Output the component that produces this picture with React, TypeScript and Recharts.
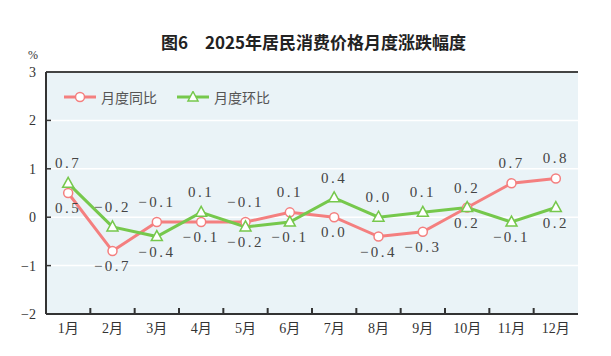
import { ComposedChart, Line, XAxis, YAxis, CartesianGrid, Legend, LabelList, ReferenceLine } from 'recharts'

const months = ['1月', '2月', '3月', '4月', '5月', '6月', '7月', '8月', '9月', '10月', '11月', '12月']
const yoy = [0.5, -0.7, -0.1, -0.1, -0.1, 0.1, 0.0, -0.4, -0.3, 0.2, 0.7, 0.8] // 月度同比
const mom = [0.7, -0.2, -0.4, 0.1, -0.2, -0.1, 0.4, 0.0, 0.1, 0.2, -0.1, 0.2] // 月度环比
const yTicks = [-2, -1, 0, 1, 2, 3]

const PINK = '#f47f7f'
const GREEN = '#76c84c'
const W = 611
const H = 356
const LEFT = 46
const RIGHT = 33
const band = (W - LEFT - RIGHT) / months.length

const numFont = '"Liberation Serif", "Noto Sans CJK SC", serif'
const cjkFont = '"Noto Sans CJK SC", sans-serif'

const data = months.map((m, i) => ({ month: m, yoy: yoy[i], mom: mom[i] }))

const fmt = (v: number) => (v < 0 ? '−' : '') + Math.abs(v).toFixed(1)

function makeLabel(series: 'yoy' | 'mom') {
  return (props: any) => {
    const { x, y, value, index } = props
    const mine = series === 'yoy' ? yoy[index] : mom[index]
    const other = series === 'yoy' ? mom[index] : yoy[index]
    const above = mine > other || (mine === other && series === 'yoy')
    return (
      <text
        x={x}
        y={above ? y - 15 : y + 20}
        textAnchor="middle"
        fontFamily={numFont}
        fontSize={15}
        letterSpacing={2.5}
        fill="#444"
      >
        {fmt(value)}
      </text>
    )
  }
}

const Triangle = (props: any) => {
  const { cx, cy, index } = props
  return (
    <path
      key={'t' + index}
      d={`M${cx},${cy - 6} L${cx + 5.5},${cy + 4} L${cx - 5.5},${cy + 4} Z`}
      fill="#fff"
      stroke={GREEN}
      strokeWidth={1.5}
    />
  )
}

const XTick = (props: any) => {
  const { x, y, payload, index } = props
  return (
    <g>
      <text x={x} y={y + 19} textAnchor="middle" fontFamily={numFont} fontSize={14} fill="#333">
        {payload.value}
      </text>
      {index < months.length - 1 && (
        <line x1={x + band / 2} x2={x + band / 2} y1={y} y2={y - 6} stroke="#333" strokeWidth={2} />
      )}
    </g>
  )
}

const YTick = (props: any) => {
  const { x, y, payload } = props
  const v = payload.value
  return (
    <g>
      <text x={x} y={y + 5} textAnchor="end" fontFamily={numFont} fontSize={14} fill="#333">
        {v < 0 ? '−' + Math.abs(v) : v}
      </text>
      {v > -2 && v < 3 && <line x1={LEFT} x2={LEFT + 5} y1={y} y2={y} stroke="#333" strokeWidth={1.5} />}
    </g>
  )
}

const LegendContent = () => (
  <div style={{ display: 'flex', alignItems: 'center', fontFamily: cjkFont, fontSize: 14, color: '#555' }}>
    <svg width={34} height={12}>
      <line x1={0} x2={32} y1={6} y2={6} stroke={PINK} strokeWidth={3} />
      <circle cx={16} cy={6} r={4.5} fill="#fff" stroke={PINK} strokeWidth={1.5} />
    </svg>
    <span style={{ marginLeft: 3, marginRight: 20 }}>月度同比</span>
    <svg width={34} height={12}>
      <line x1={0} x2={32} y1={6} y2={6} stroke={GREEN} strokeWidth={3} />
      <path d="M16,0.5 L21,10 L11,10 Z" fill="#fff" stroke={GREEN} strokeWidth={1.5} />
    </svg>
    <span style={{ marginLeft: 3 }}>月度环比</span>
  </div>
)

export default function App() {
  return (
    <div style={{ position: 'absolute', left: 0, top: 0, width: W, height: H, background: '#fff' }}>
      <div
        style={{
          position: 'absolute',
          left: 0,
          width: W,
          top: 30,
          textAlign: 'center',
          fontFamily: cjkFont,
          fontWeight: 'bold',
          fontSize: 17,
          color: '#222',
          lineHeight: '24px',
          paddingLeft: 16,
          boxSizing: 'border-box',
        }}
      >
        图6　2025年居民消费价格月度涨跌幅度
      </div>
      <div style={{ position: 'absolute', left: 28, top: 48, fontFamily: numFont, fontSize: 12, color: '#333' }}>%</div>
      <ComposedChart width={W} height={H} data={data} margin={{ top: 72, right: RIGHT, bottom: 0, left: 0 }}>
        <CartesianGrid vertical={false} stroke="#fff" strokeWidth={1.5} fill="#eaf3f7" />
        <XAxis
          dataKey="month"
          scale="band"
          height={42}
          interval={0}
          tickSize={0}
          tickMargin={0}
          tickLine={false}
          tick={<XTick />}
          axisLine={{ stroke: '#333', strokeWidth: 2 }}
        />
        <YAxis
          width={LEFT}
          domain={[-2, 3]}
          ticks={yTicks}
          tickSize={0}
          tickMargin={10}
          tickLine={false}
          tick={<YTick />}
          axisLine={{ stroke: '#333', strokeWidth: 2 }}
        />
        <ReferenceLine y={3} stroke="#444" strokeWidth={2} />
        <ReferenceLine x="12月" position="end" stroke="#444" strokeWidth={2} />
        <Legend
          layout="horizontal"
          verticalAlign="middle"
          align="center"
          content={<LegendContent />}
          wrapperStyle={{ left: 64, top: 87, width: 'auto' }}
        />
        <Line
          dataKey="yoy"
          name="月度同比"
          stroke={PINK}
          strokeWidth={3}
          dot={{ r: 4.5, fill: '#fff', stroke: PINK, strokeWidth: 1.5 }}
          isAnimationActive={false}
        >
          <LabelList dataKey="yoy" content={makeLabel('yoy')} />
        </Line>
        <Line
          dataKey="mom"
          name="月度环比"
          stroke={GREEN}
          strokeWidth={3}
          dot={<Triangle />}
          isAnimationActive={false}
        >
          <LabelList dataKey="mom" content={makeLabel('mom')} />
        </Line>
      </ComposedChart>
    </div>
  )
}
